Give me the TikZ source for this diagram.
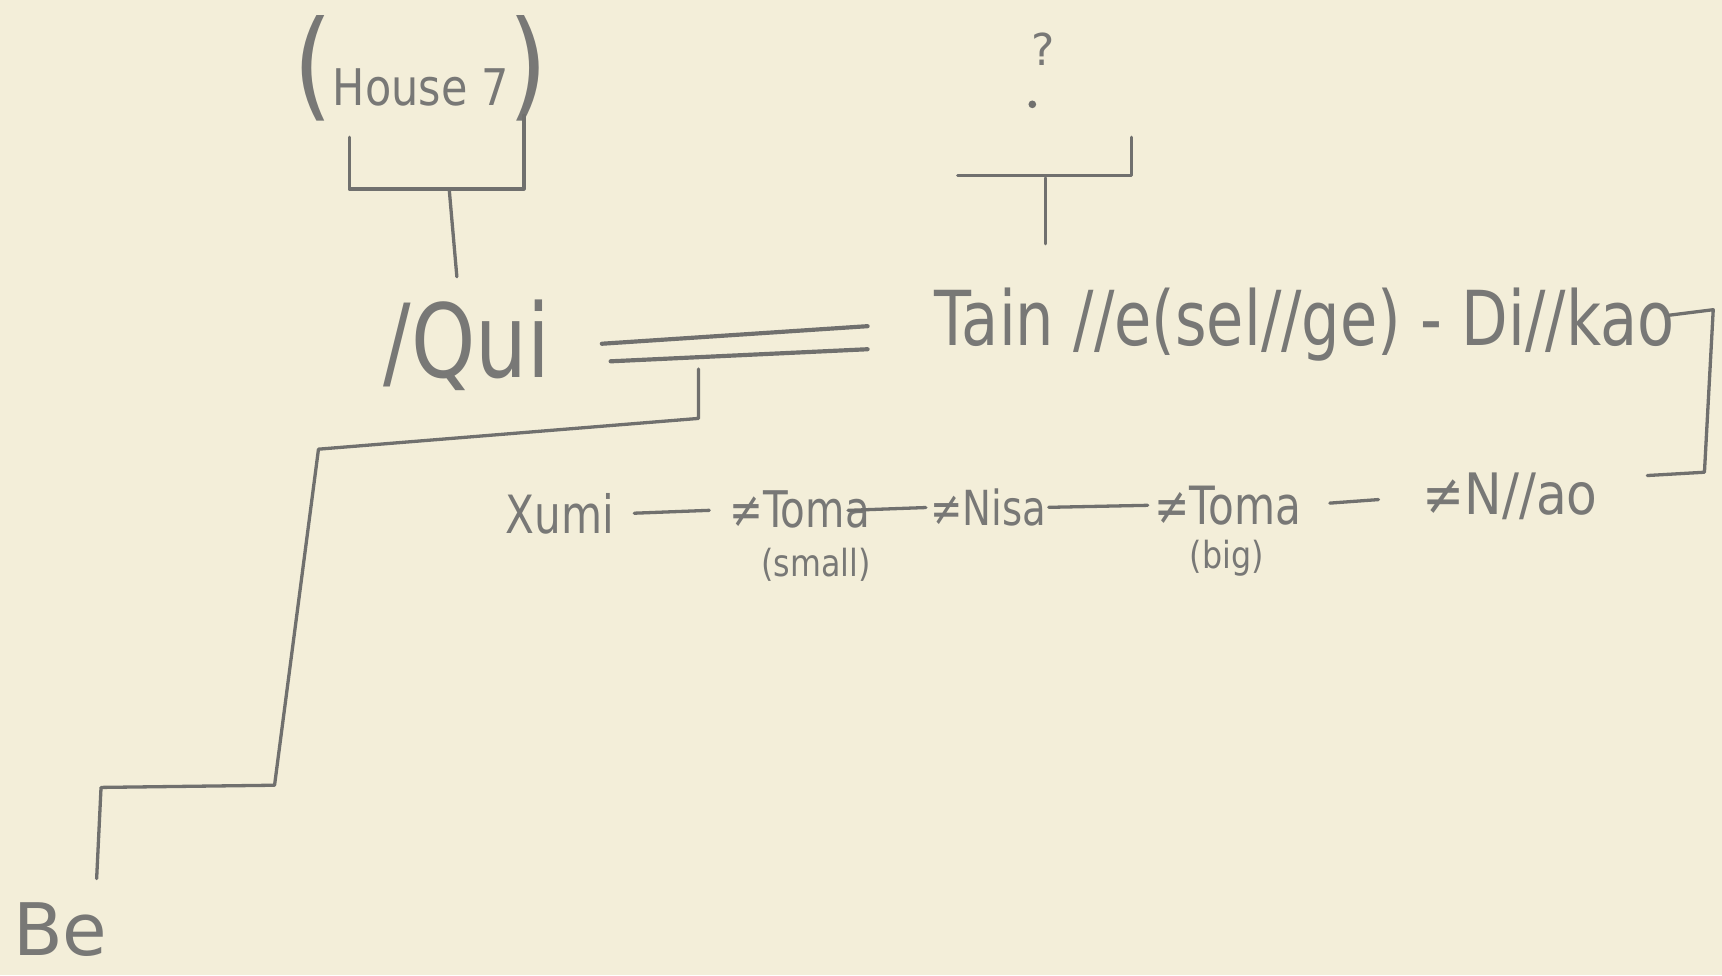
\documentclass[tikz,border=0pt]{standalone}
\usepackage{fontspec}
\setmainfont{DejaVu Sans}
\definecolor{paper}{RGB}{243,238,217}
\definecolor{pencil}{RGB}{112,112,110}
\definecolor{pencilt}{RGB}{120,120,118}
\newcommand{\handtext}[3]{\scalebox{#1}[1]{\fontsize{#2}{#2}\selectfont #3}}
\begin{document}
\begin{tikzpicture}[x=1pt,y=-1pt,
  line/.style={draw=pencil, line width=3pt, line cap=round, line join=round},
  lbl/.style={text=pencilt, inner sep=0pt, anchor=center}]
\fill[paper] (0,0) rectangle (1568,888);
\useasboundingbox (0,0) rectangle (1568,888);

% ---- texts ----
\node[lbl] (house) at (383,62) {\scalebox{0.85}[1]{\fontsize{108}{108}\selectfont(\fontsize{46}{46}\selectfont House 7\fontsize{108}{108}\selectfont)}};
\node[lbl] (q) at (950,45) {\fontsize{40}{40}\selectfont ?};
\node[circle, fill=pencil, inner sep=0pt, minimum size=7pt] (qdot) at (940,95) {};
\node[lbl] (qui) at (425,314) {\handtext{0.8}{93}{/Qui}};
\node[lbl] (tain) at (1188,296) {\handtext{0.8}{69}{Tain //e(sel//ge) - Di//kao}};

\node[lbl] (xumi) at (510,468) {\handtext{0.8}{48}{Xumi}};
\node[lbl] (tomas) at (728,464) {\handtext{0.8}{46}{≠Toma}};
\node[lbl] (small) at (743,514) {\handtext{0.85}{34}{(small)}};
\node[lbl] (nisa) at (900,462) {\handtext{0.8}{44}{≠Nisa}};
\node[lbl] (tomab) at (1118,460) {\handtext{0.8}{48}{≠Toma}};
\node[lbl] (big) at (1117,508) {\handtext{0.85}{34}{(big)}};
\node[lbl] (nao) at (1375,452) {\handtext{0.88}{52}{≠N//ao}};
\node[lbl] (be) at (55,846) {\fontsize{66}{66}\selectfont Be};

% ---- named points ----
\coordinate (hbl) at (318,125);
\coordinate (hjl) at (318,172);
\coordinate (hjr) at (477,172);
\coordinate (hbr) at (477,105);
\coordinate (hm) at (409,172);
\coordinate (hs) at (416,252);

\coordinate (qbl) at (872,160);
\coordinate (qbr) at (1030,160);
\coordinate (qbt) at (1030,125);
\coordinate (qm) at (952,162);
\coordinate (qs) at (952,222);

\coordinate (m1a) at (548,313);
\coordinate (m1b) at (790,297);
\coordinate (m2a) at (556,329);
\coordinate (m2b) at (790,318);

\coordinate (ms) at (636,336);
\coordinate (md) at (636,381);
\coordinate (d1) at (290,409);
\coordinate (d2) at (250,715);
\coordinate (d3) at (92,717);
\coordinate (d4) at (88,800);

\coordinate (rb1) at (1520,287);
\coordinate (rb2) at (1560,282);
\coordinate (rb3) at (1552,430);
\coordinate (rb4) at (1500,433);

% ---- lines ----
\draw[line] (hbl) -- (hjl) -- (hjr) -- (hbr);
\draw[line] (hm) -- (hs);
\draw[line] (qbl) -- (qbr) -- (qbt);
\draw[line] (qm) -- (qs);
\draw[line, line width=3.8pt] (m1a) -- (m1b);
\draw[line, line width=3.8pt] (m2a) -- (m2b);
\draw[line] (ms) -- (md) -- (d1) -- (d2) -- (d3) -- (d4);
\draw[line] (rb1) -- (rb2) -- (rb3) -- (rb4);

\draw[line, shorten <=18pt, shorten >=18pt] (xumi.east) -- (tomas.west);
\draw[line, shorten <=-20pt, shorten >=4pt] (tomas.east) -- (nisa.west);
\draw[line, shorten <=2pt, shorten >=6pt] (nisa.east) -- (tomab.west);
\draw[line, shorten <=26pt, shorten >=40pt] (tomab.east) -- (nao.west);
\end{tikzpicture}
\end{document}
